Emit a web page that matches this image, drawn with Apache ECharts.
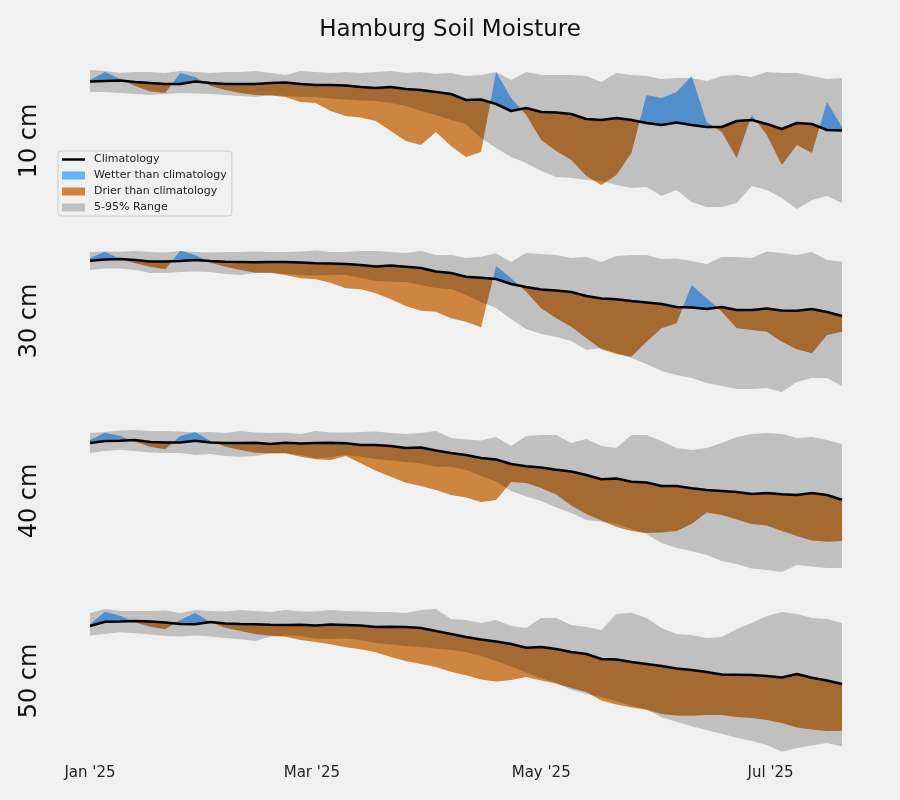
<!DOCTYPE html>
<html>
<head>
<meta charset="utf-8">
<title>Hamburg Soil Moisture</title>
<script src="https://cdn.jsdelivr.net/npm/echarts@6/dist/echarts.min.js"></script>
<style>
html, body { margin: 0; padding: 0; background: #f0f0f0; }
#main { width: 900px; height: 800px; }
</style>
</head>
<body>
<div id="main"></div>
<script>
// days since 1 Jan 2025, one sample every 4 days
var days = [0, 4, 8, 12, 16, 20, 24, 28, 32, 36, 40, 44, 48, 52, 56, 60, 64, 68, 72, 76,
    80, 84, 88, 92, 96, 100, 104, 108, 112, 116, 120, 124, 128, 132, 136, 140, 144, 148, 152, 156,
    160, 164, 168, 172, 176, 180, 184, 188, 192, 196, 200];
var tickDays = [0, 59, 120, 181];
var tickLabels = ["Jan '25", "Mar '25", "May '25", "Jul '25"];
var depths = ['10 cm', '30 cm', '40 cm', '50 cm'];

// 10 cm
var clim10 = [138.5, 139, 139.5, 138, 137, 136, 136, 138.5, 137, 136, 136, 136, 137, 137.5, 136, 135, 135, 134.5, 133, 132,
    133, 131, 130, 128, 126, 120, 120.5, 116, 109, 112, 108, 107.5, 106, 101, 100, 102, 100, 97, 95, 97.5,
    95, 93, 93, 99, 100, 96, 91, 97, 96, 90, 89.5];
var p95_10 = [150, 149, 147, 148, 148, 147, 149, 148, 147, 148, 148, 149, 147, 145, 149, 148, 147, 148, 147, 148,
    149, 147, 148, 146, 147, 144, 145, 148, 140, 148, 145, 145, 145, 144, 138, 147, 145, 144, 141, 142,
    142, 139, 144, 145, 143, 148, 147, 147, 144, 141, 142];
var p5_10 = [128, 128, 127, 126, 125, 126, 127, 126.5, 126, 125, 124, 123, 125, 124, 123, 123, 121.5, 120.5, 119.5, 119,
    117, 114, 109, 105, 100, 96, 82, 72, 63, 57, 49, 43, 42, 40, 39, 35, 32, 33, 24, 30,
    18, 13, 13, 17, 34, 30, 22, 11, 20, 24, 17];
var act10 = [140, 148, 141, 134, 128.5, 127, 147, 143, 134, 130, 127, 125, 124.5, 123, 118, 117, 109, 104, 102.5, 99,
    89, 79, 75, 88, 74, 63, 68, 148, 122, 105, 80, 69, 60, 44, 35, 45, 67, 125, 122, 128,
    144, 98, 88, 62, 105, 85, 55, 75, 67, 118, 93];

// 30 cm
var clim30 = [139.3, 140.5, 141, 140, 138.5, 138.5, 139, 140, 139, 138.3, 138, 137.7, 138, 138, 137.5, 136.7, 136.5, 136, 135, 133.5,
    134.5, 133.3, 132, 128.5, 127, 123.3, 122.3, 121, 116, 113, 110.5, 109.5, 108, 104, 101.5, 100.7, 99, 97.5, 96, 93,
    92.5, 91, 93, 90, 90, 91.5, 89.5, 89.3, 91, 88, 84];
var p95_30 = [148, 148.5, 148.3, 149, 148, 147.5, 149, 148, 147.5, 148, 148, 148.5, 148, 148, 148.5, 149.5, 148, 148, 149, 149,
    148, 147, 149, 145, 145, 142, 143.3, 146.7, 138, 147, 146, 145, 142, 143, 138, 144, 145, 145, 141, 141.5,
    139, 136, 143, 143, 142, 148.5, 147, 145, 148, 140, 138.3];
var p5_30 = [130, 131.5, 131.5, 130, 127, 127, 128, 128.5, 128, 126, 125, 127, 127, 126, 125, 124.5, 125, 125, 122, 119,
    118.3, 118, 115, 112, 111, 105, 98, 92, 81, 71, 66, 63, 59, 50, 52, 47, 42, 36, 29, 25,
    22, 17, 14, 11, 11, 12, 8, 18, 22, 22, 14];
var act30 = [142, 148.3, 141, 136.7, 133.3, 130.7, 149.3, 145, 137.3, 133.3, 130, 127.3, 127.3, 125, 121.7, 120.7, 117.3, 111.7, 110.7, 106.7,
    100.7, 94, 89.3, 88.3, 81.7, 78.3, 72.7, 134, 121.7, 108.3, 91.7, 81.7, 73.3, 61.7, 50.7, 46, 43.3, 58.3, 71.7, 76.7,
    115, 101.7, 88.3, 71.7, 70, 68.3, 58.3, 50.7, 46.7, 65, 68.3];

// 40 cm
var clim40 = [137, 139, 139.3, 140, 138, 137.5, 137.5, 139.2, 137.5, 137, 137, 137.3, 136, 137.3, 136.5, 137, 137.3, 136.8, 135, 135,
    134, 132, 132.5, 129.5, 127, 125, 122, 120.5, 116, 113.7, 112.5, 110.3, 108.5, 105, 100.7, 101.5, 98.3, 97.5, 94, 94,
    91.7, 90, 89, 88, 86, 87, 85.7, 85, 87, 85, 80.3];
var p95_40 = [147, 148, 149.5, 150, 149, 149, 148.5, 147.5, 148, 147, 149, 147.5, 147, 147.3, 146, 149, 147.5, 147.5, 148, 148.5,
    147, 146, 147, 149, 142, 140.5, 139.5, 143, 134, 144, 145, 145, 137, 141, 134, 132, 145, 145, 139, 132,
    130, 132, 137, 143, 146, 147, 146, 142, 143, 140, 136];
var p5_40 = [127, 129, 130, 129, 127.5, 127, 127, 125, 126, 124, 123.3, 124, 126.5, 126.7, 125, 122, 123, 125, 123.3, 121,
    119.5, 118, 116.5, 113.3, 113.3, 110, 104, 98.5, 89, 83.5, 79, 72.5, 67, 60, 58.3, 56, 51, 46, 37, 32,
    29, 25, 19, 16, 11.5, 10, 8, 15, 13.5, 12, 12];
var act40 = [140, 147.3, 144, 138.3, 133.3, 130.7, 144, 148, 139, 133.3, 130, 127.3, 126.7, 126.7, 123.3, 120.7, 120, 124, 116.7, 109.3,
    103.3, 97.3, 94, 90, 85, 82.5, 78, 80, 98, 97, 92, 85.5, 74.5, 66, 59.5, 53, 49, 47, 47.5, 49,
    56, 67.5, 65, 60.5, 56, 54.5, 49, 44, 39.5, 38.3, 39];

// 50 cm
var clim50 = [134, 138.3, 138.5, 139, 138.5, 137.5, 136, 135.7, 138, 136.5, 136, 135.7, 135.3, 135, 135.3, 134.5, 135.5, 135, 134.5, 133,
    133.3, 133, 132, 129, 126, 123, 120.5, 118.5, 116, 112.3, 113, 111, 108, 106, 101, 100.5, 98, 96, 94, 91.5,
    90, 88, 85.5, 85.3, 85, 84, 82.5, 86, 82.3, 79.5, 76];
var p95_50 = [147, 151, 149, 149, 149, 149.5, 147, 150, 149, 148.5, 150, 149, 148, 150, 148.5, 148.5, 150, 149, 148.5, 148,
    148, 147, 150, 151, 141, 140, 137, 140, 134, 132, 142, 142, 135, 133, 130, 146, 147.3, 142, 132, 126,
    125, 122, 123, 131, 137, 144, 148, 146, 142, 141, 137];
var p5_50 = [124.5, 126, 127.7, 126.7, 125.5, 124, 123.5, 124.5, 123.5, 122, 120.7, 119, 123.5, 124.5, 124, 121.5, 121, 121.5, 120, 117,
    115.5, 114, 113, 111.5, 110, 108, 104, 99, 93.5, 87.5, 82, 77, 70, 66, 63, 58.7, 54.3, 50.5, 42.7, 38.3,
    33.7, 30, 26.3, 22.3, 19, 15, 8.3, 12, 14.5, 17, 13.5];
var act50 = [135.7, 148.3, 144.3, 137.7, 133.3, 130.7, 140, 147, 137.7, 132.3, 129, 126, 124.3, 123.3, 120, 118, 115.7, 112.7, 110.7, 107.7,
    103, 99, 96, 93, 88.3, 84.7, 80.5, 78.5, 80, 83, 79.5, 76.5, 72, 68, 59.5, 55.5, 52.5, 50.3, 46, 44.5,
    44.3, 45, 45, 43, 42, 40, 37, 32.5, 30.5, 29, 29.3];

var panels = [
    { clim: clim10, p5: p5_10, p95: p95_10, act: act10 },
    { clim: clim30, p5: p5_30, p95: p95_30, act: act30 },
    { clim: clim40, p5: p5_40, p95: p95_40, act: act40 },
    { clim: clim50, p5: p5_50, p95: p95_50, act: act50 }
];

var WET = '#66b3ff';
var DRY = '#cd853f';
var RANGE = 'rgba(0,0,0,0.2)';
var FONT = 'DejaVu Sans';

// put both curves on a common set of days, adding the points where they cross
function withCrossings(a, b) {
    var xs = [], av = [], bv = [];
    for (var j = 0; j < days.length; j++) {
        xs.push(days[j]); av.push(a[j]); bv.push(b[j]);
        if (j < days.length - 1) {
            var d0 = a[j] - b[j], d1 = a[j + 1] - b[j + 1];
            if (d0 * d1 < 0) {
                var t = d0 / (d0 - d1);
                var v = a[j] + t * (a[j + 1] - a[j]);
                xs.push(days[j] + t * (days[j + 1] - days[j])); av.push(v); bv.push(v);
            }
        }
    }
    return { xs: xs, a: av, b: bv };
}

// filled area between two curves, drawn as one polygon through the axes
function fillBetween(name, i, xs, lower, upper, color) {
    return {
        name: name, type: 'custom', coordinateSystem: 'cartesian2d',
        xAxisIndex: i, yAxisIndex: i, silent: true, color: color,
        data: [[xs[0], lower[0]]],
        renderItem: function(params, api) {
            var pts = [];
            for (var j = 0; j < xs.length; j++) pts.push(api.coord([xs[j], upper[j]]));
            for (var k = xs.length - 1; k >= 0; k--) pts.push(api.coord([xs[k], lower[k]]));
            return { type: 'polygon', shape: { points: pts }, style: { fill: color } };
        }
    };
}

var grids = [], xAxes = [], yAxes = [], series = [], graphics = [];

panels.forEach(function(p, i) {
    var last = i == panels.length - 1;
    grids.push({ left: 90, right: 58, top: 60 + i * 180, height: 160 });
    xAxes.push({
        type: 'value', gridIndex: i, min: days[0], max: days[days.length - 1],
        axisLine: { show: false }, axisTick: { show: false }, splitLine: { show: false },
        axisLabel: {
            show: last, customValues: tickDays, margin: 6,
            fontSize: 15, color: '#222', fontFamily: FONT,
            formatter: function(v) {
                var k = tickDays.indexOf(v);
                return k >= 0 ? tickLabels[k] : '';
            }
        }
    });
    yAxes.push({ type: 'value', gridIndex: i, min: 0, max: 160, show: false });

    var m = withCrossings(p.act, p.clim);
    var low = m.a.map(function(a, j) { return Math.min(a, m.b[j]); });
    var high = m.a.map(function(a, j) { return Math.max(a, m.b[j]); });

    series.push(fillBetween('Drier than climatology', i, m.xs, low, m.b, DRY));
    series.push(fillBetween('Wetter than climatology', i, m.xs, m.b, high, WET));
    series.push(fillBetween('5-95% Range', i, days, p.p5, p.p95, RANGE));
    series.push({
        name: 'Climatology', type: 'line', xAxisIndex: i, yAxisIndex: i,
        data: days.map(function(d, j) { return [d, p.clim[j]]; }),
        symbol: 'none', silent: true, color: '#000',
        lineStyle: { width: 2.5, color: '#000' }
    });

    graphics.push({
        type: 'text', x: 30, y: 141 + i * 180, rotation: Math.PI / 2,
        style: {
            text: depths[i], fill: '#111', fontSize: 24, fontFamily: FONT,
            align: 'center', verticalAlign: 'middle', textAlign: 'center', textVerticalAlign: 'middle'
        }
    });
});

var chart = echarts.init(document.getElementById('main'));
chart.setOption({
    backgroundColor: '#f0f0f0',
    animation: false,
    title: {
        text: 'Hamburg Soil Moisture', left: 'center', top: 14,
        textStyle: { fontSize: 23, fontWeight: 'normal', color: '#111', fontFamily: FONT }
    },
    legend: {
        orient: 'vertical', left: 58, top: 151, z: 10,
        padding: [2, 5, 2, 4], itemGap: 3, itemWidth: 23, itemHeight: 8,
        borderColor: '#cccccc', borderWidth: 1, borderRadius: 3, backgroundColor: '#f0f0f0',
        selectedMode: false,
        textStyle: { fontSize: 11, color: '#222', fontFamily: FONT, lineHeight: 13, padding: [0, 0, 0, 4] },
        data: [
            { name: 'Climatology', icon: 'path://M0,0L24,0L24,2.6L0,2.6Z', itemStyle: { color: '#000', borderWidth: 0 } },
            { name: 'Wetter than climatology', icon: 'rect', itemStyle: { color: WET, borderWidth: 0 } },
            { name: 'Drier than climatology', icon: 'rect', itemStyle: { color: DRY, borderWidth: 0 } },
            { name: '5-95% Range', icon: 'rect', itemStyle: { color: RANGE, borderWidth: 0 } }
        ]
    },
    grid: grids,
    xAxis: xAxes,
    yAxis: yAxes,
    series: series,
    graphic: graphics
});
</script>
</body>
</html>
